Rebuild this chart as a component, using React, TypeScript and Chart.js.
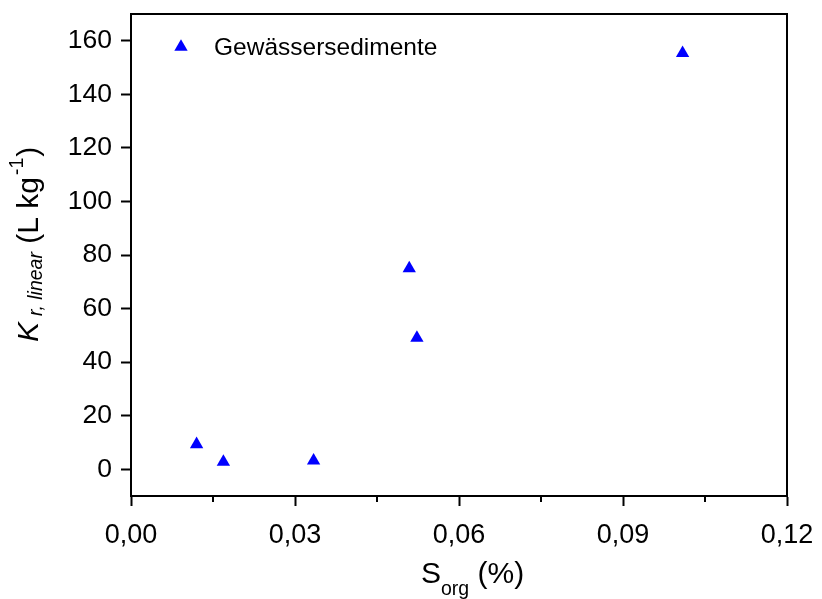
import React, { useEffect, useRef } from 'react';
import { Chart, registerables } from 'chart.js';

Chart.register(...registerables);

const seriesName = 'Gewässersedimente';
const sOrg = [0.012, 0.0169, 0.0334, 0.0509, 0.0523, 0.1009];
const krLinear = [9.3, 2.7, 3.2, 75.0, 49.0, 155.4];
const xTicks = [0, 0.03, 0.06, 0.09, 0.12];
const xMinorTicks = [0.015, 0.045, 0.075, 0.105];
const yTicks = [0, 20, 40, 60, 80, 100, 120, 140, 160];
const xRange = [0, 0.12];
const yRange = [-10, 170];

const FONT = '"Liberation Sans", Arial, Helvetica, sans-serif';
const BLUE = '#0000ff';

const decorPlugin = {
  id: 'decor',
  afterDraw(chart: any) {
    const { ctx, chartArea: a, scales } = chart;
    ctx.save();
    ctx.strokeStyle = '#000';
    ctx.lineWidth = 2;
    ctx.beginPath();
    ctx.moveTo(a.left - 1, a.top);
    ctx.lineTo(a.right, a.top);
    ctx.lineTo(a.right, a.bottom + 1);
    ctx.stroke();
    // minor ticks on x axis
    ctx.beginPath();
    xMinorTicks.forEach((v) => {
      const px = Math.round(scales.x.getPixelForValue(v));
      ctx.moveTo(px, a.bottom);
      ctx.lineTo(px, a.bottom + 6);
    });
    ctx.stroke();

    // legend
    const lx = a.left + 50;
    const ly = a.top + 33;
    const r = 7.7;
    ctx.fillStyle = BLUE;
    ctx.beginPath();
    ctx.moveTo(lx, ly - r);
    ctx.lineTo(lx + r * Math.sin(Math.PI / 3), ly + r / 2);
    ctx.lineTo(lx - r * Math.sin(Math.PI / 3), ly + r / 2);
    ctx.closePath();
    ctx.fill();
    ctx.fillStyle = '#000';
    ctx.font = `24.5px ${FONT}`;
    ctx.textAlign = 'left';
    ctx.textBaseline = 'alphabetic';
    ctx.fillText(seriesName, a.left + 83, a.top + 41);

    // x title: S_org (%)
    const cx = (a.left + a.right) / 2;
    let x = cx - 38;
    const xb = a.bottom + 87;
    ctx.font = `30px ${FONT}`;
    ctx.fillText('S', x, xb);
    x += ctx.measureText('S').width;
    ctx.font = `19.5px ${FONT}`;
    ctx.fillText('org', x, xb + 12);
    x += ctx.measureText('org').width;
    ctx.font = `30px ${FONT}`;
    ctx.fillText(' (%)', x, xb);

    // y title: K_{r, linear} (L kg^-1)
    const cy = (a.top + a.bottom) / 2;
    ctx.save();
    ctx.translate(38.3, cy + 87);
    ctx.rotate(-Math.PI / 2);
    let t = 0;
    ctx.font = `italic 30px ${FONT}`;
    ctx.fillText('K', t, 0);
    t += 26;
    ctx.font = `italic 19.5px ${FONT}`;
    ctx.fillText('r, linear', t, 3.5);
    t += ctx.measureText('r, linear').width;
    ctx.font = `30px ${FONT}`;
    ctx.fillText(' (L kg', t, 0);
    t += ctx.measureText(' (L kg').width + 2;
    ctx.font = `19.5px ${FONT}`;
    ctx.fillText('-1', t, -15);
    t += ctx.measureText('-1').width + 1;
    ctx.font = `30px ${FONT}`;
    ctx.fillText(')', t, 0);
    ctx.restore();

    ctx.restore();
  },
};

export default function App() {
  const ref = useRef<HTMLCanvasElement | null>(null);

  useEffect(() => {
    document.body.style.margin = '0';
    const canvas = ref.current;
    if (!canvas) return;
    const chart = new Chart(canvas, {
      type: 'scatter',
      data: {
        datasets: [
          {
            label: seriesName,
            data: sOrg.map((v, i) => ({ x: v, y: krLinear[i] })),
            pointStyle: 'triangle',
            pointRadius: 7.7,
            pointHoverRadius: 7.7,
            backgroundColor: BLUE,
            borderColor: BLUE,
            borderWidth: 0,
          },
        ],
      },
      options: {
        animation: false,
        responsive: false,
        devicePixelRatio: 1,
        events: [],
        layout: { padding: { top: 14, right: 35, left: 0, bottom: 0 } },
        plugins: {
          legend: { display: false },
          tooltip: { enabled: false },
        },
        scales: {
          x: {
            type: 'linear',
            min: xRange[0],
            max: xRange[1],
            afterBuildTicks: (scale: any) => {
              scale.ticks = xTicks.map((v) => ({ value: v }));
            },
            afterFit: (scale: any) => {
              scale.height = 103;
              scale.paddingLeft = 0;
              scale.paddingRight = 0;
            },
            ticks: {
              color: '#000',
              font: { family: FONT, size: 27 },
              padding: 13,
              maxRotation: 0,
              autoSkip: false,
              callback: (v: any) => Number(v).toFixed(2).replace('.', ','),
            },
            grid: {
              drawOnChartArea: false,
              drawTicks: true,
              tickLength: 10,
              tickWidth: 2,
              tickColor: '#000',
            },
            border: { display: true, color: '#000', width: 2 },
          },
          y: {
            type: 'linear',
            min: yRange[0],
            max: yRange[1],
            afterBuildTicks: (scale: any) => {
              scale.ticks = yTicks.map((v) => ({ value: v }));
            },
            afterFit: (scale: any) => {
              scale.width = 131;
              scale.paddingTop = 0;
              scale.paddingBottom = 0;
            },
            ticks: {
              color: '#000',
              font: { family: FONT, size: 26.5 },
              padding: 9,
              autoSkip: false,
              callback: (v: any) => String(v),
            },
            grid: {
              drawOnChartArea: false,
              drawTicks: true,
              tickLength: 10,
              tickWidth: 2,
              tickColor: '#000',
            },
            border: { display: true, color: '#000', width: 2 },
          },
        },
      },
      plugins: [decorPlugin],
    } as any);
    return () => chart.destroy();
  }, []);

  return (
    <div style={{ position: 'absolute', left: 0, top: 0, width: 822, height: 599, background: '#fff' }}>
      <canvas ref={ref} width={822} height={599} style={{ display: 'block' }} />
    </div>
  );
}
